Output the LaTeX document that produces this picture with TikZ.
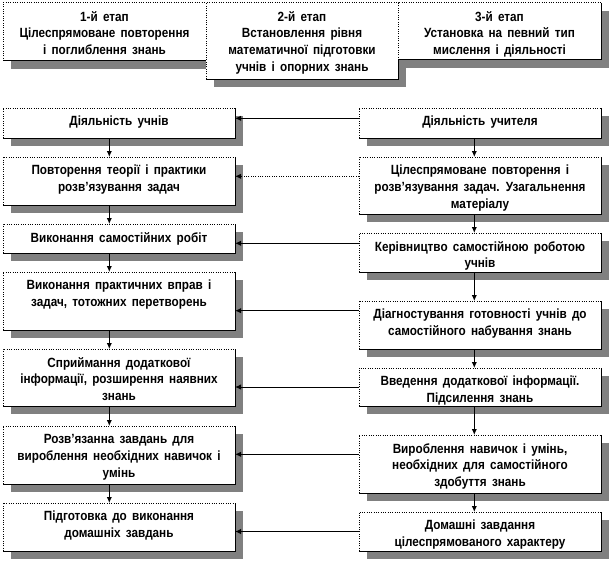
\documentclass[tikz,border=0pt]{standalone}
\usepackage{fontspec}
\setmainfont{Liberation Sans}[FakeStretch=0.88,WordSpace=1.6]
\usepackage{tikz}
\usetikzlibrary{arrows.meta,calc}
\definecolor{shadowgray}{RGB}{128,128,128}

% box with shadow: name, left, top, width, height, text
\newcommand{\shbox}[6]{%
  \fill[shadowgray] (#2+8,#3+8) rectangle ++(#4,#5);
  \node[boxbg,minimum width=#4*0.75pt,minimum height=#5*0.75pt] (#1) at (#2,#3) {};
  \draw[boxedge,densely dotted] (#1.south west) -- (#1.north west) -- (#1.north east);
  \draw[boxedge] (#1.north east) -- (#1.south east) -- (#1.south west);
  \node[boxtxt] (#1txt) at ($(#1.north)+(0,8)$) {#6};
}

\begin{document}
\begin{tikzpicture}[
  x=0.75pt,y=-0.75pt,
  boxbg/.style={rectangle,anchor=north west,fill=white,inner sep=0pt,outer sep=0pt},
  boxedge/.style={line width=0.75pt},
  boxtxt/.style={anchor=north,align=center,inner sep=0pt,
                 font=\bfseries\fontsize{10}{12.6}\selectfont},
  arr/.style={-{Latex[length=4.5pt,width=4pt]},line width=0.75pt}
]
\useasboundingbox (0,0) rectangle (609,560);

% Етапи
\shbox{st1}{3}{3}{203}{58}{1-й етап\\Цілеспрямоване повторення\\і поглиблення знань}
\shbox{st2}{206}{3}{192}{76}{2-й етап\\Встановлення рівня\\математичної підготовки\\учнів і опорних знань}
\shbox{st3}{398}{3}{203}{57}{3-й етап\\Установка на певний тип\\мислення і діяльності}

% Діяльність учнів
\shbox{L1}{3}{108}{232}{30}{Діяльність учнів}
\shbox{L2}{3}{157}{232}{48}{Повторення теорії і практики\\розв’язування задач}
\shbox{L3}{3}{224}{232}{29}{Виконання самостійних робіт}
\shbox{L4}{3}{272}{232}{58}{Виконання практичних вправ і\\задач, тотожних перетворень}
\shbox{L5}{3}{349}{232}{57}{Сприймання додаткової\\інформації, розширення наявних\\знань}
\shbox{L6}{3}{426}{232}{58}{Розв’язанна завдань для\\вироблення необхідних навичок і\\умінь}
\shbox{L7}{3}{503}{232}{48}{Підготовка до виконання\\домашніх завдань}

% Діяльність учителя
\shbox{R1}{359}{108}{242}{30}{Діяльність учителя}
\shbox{R2}{359}{157}{242}{57}{Цілеспрямоване повторення і\\розв’язування задач. Узагальнення\\матеріалу}
\shbox{R3}{359}{233}{242}{39}{Керівництво самостійною роботою\\учнів}
\shbox{R4}{359}{301}{242}{48}{Діагностування готовності учнів до\\самостійного набування знань}
\shbox{R5}{359}{368}{242}{38}{Введення додаткової інформації.\\Підсилення знань}
\shbox{R6}{359}{435}{242}{58}{Вироблення навичок і умінь,\\необхідних для самостійного\\здобуття знань}
\shbox{R7}{359}{512}{242}{39}{Домашні завдання\\цілеспрямованого характеру}

% вертикальні стрілки
\foreach \a/\b in {L1/L2,L2/L3,L3/L4,L4/L5,L5/L6,L6/L7}
  \draw[arr] ($(\a.south)+(-9.7,0)$) coordinate (v) -- (v |- \b.north);
\foreach \a/\b in {R1/R2,R2/R3,R3/R4,R4/R5,R5/R6,R6/R7}
  \draw[arr] ($(\a.south)+(-5.7,0)$) coordinate (v) -- (v |- \b.north);

% від учителя до учнів
\foreach \r/\l/\dy in {R1/L1/-4.7,R3/L3/-9.2,R4/L4/-14.3,R5/L5/0,R6/L6/-9.7,R7/L7/0}
  \draw[arr] ($(\r.west)+(0,\dy)$) coordinate (h) -- (h -| \l.east);
\draw[arr,densely dotted] ($(R2.west)+(0,-9.2)$) coordinate (h) -- (h -| L2.east);
\end{tikzpicture}
\end{document}
